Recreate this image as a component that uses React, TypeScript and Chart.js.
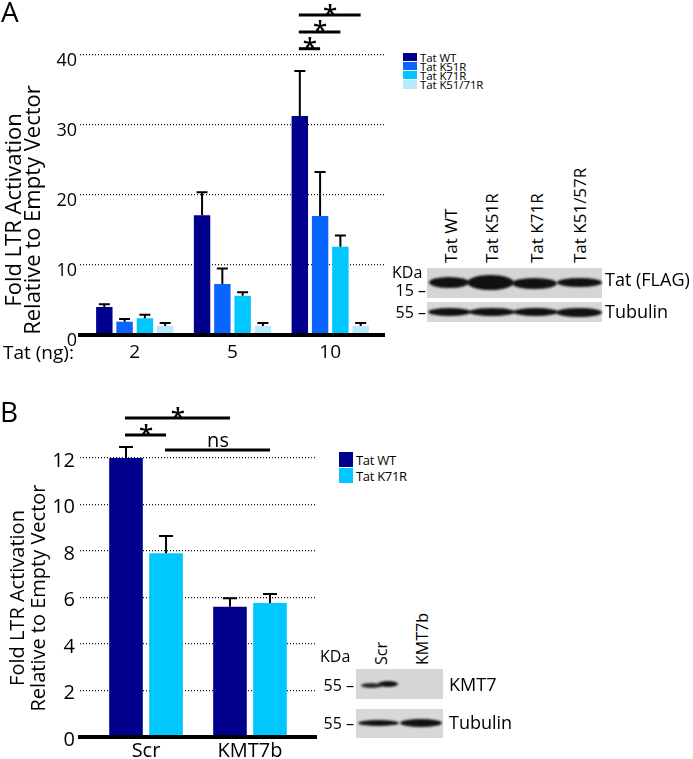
import React, { useEffect, useRef } from 'react';
import { Chart, registerables } from 'chart.js';

Chart.register(...registerables);

const FONT = "'Open Sans', sans-serif";

// ---------- Panel A data ----------
const doseLabels = ['2', '5', '10'];
const seriesNamesA = ['Tat WT', 'Tat K51R', 'Tat K71R', 'Tat K51/71R'];
const seriesColorsA = ['#00008c', '#0a64ff', '#00c8ff', '#b8e9ff'];
const tatWT = [4.0, 17.1, 31.3];
const tatK51R = [1.9, 7.3, 17.0];
const tatK71R = [2.4, 5.6, 12.6];
const tatK5171R = [1.3, 1.3, 1.3];
const errWT = [0.4, 3.3, 6.4];
const errK51R = [0.4, 2.2, 6.3];
const errK71R = [0.5, 0.5, 1.6];
const errK5171R = [0.4, 0.4, 0.4];
const yTicksA = [0, 10, 20, 30, 40];
const sigA = [
  { from: [0, 2], to: [1, 2], level: 40.9, text: '*' },
  { from: [0, 2], to: [2, 2], level: 43.3, text: '*' },
  { from: [0, 2], to: [3, 2], level: 45.7, text: '*' },
];

// ---------- Panel B data ----------
const shLabels = ['Scr', 'KMT7b'];
const seriesNamesB = ['Tat WT', 'Tat K71R'];
const seriesColorsB = ['#00008c', '#00c8ff'];
const bWT = [12.0, 5.6];
const bK71R = [7.9, 5.76];
const bErrWT = [0.47, 0.37];
const bErrK71R = [0.75, 0.39];
const yTicksB = [0, 2, 4, 6, 8, 10, 12];
const sigB = [
  { from: [0, 0], to: [0, 1], level: 13.72, text: '*' },
  { from: [0, 0], to: [1, 0], level: 12.99, text: '*' },
  { from: [1, 0], to: [1, 1], level: 12.34, text: 'ns' },
];

// ---------- Blot labels ----------
const blotLanesA = ['Tat WT', 'Tat K51R', 'Tat K71R', 'Tat K51/57R'];
const blotLanesB = ['Scr', 'KMT7b'];

function errorBarPlugin(errors: number[][], cap: number, lw: number) {
  return {
    id: 'errorBars',
    afterDatasetsDraw(chart: any) {
      const ctx = chart.ctx;
      const ys = chart.scales.y;
      ctx.save();
      ctx.strokeStyle = '#000';
      ctx.lineWidth = lw;
      chart.data.datasets.forEach((ds: any, di: number) => {
        const meta = chart.getDatasetMeta(di);
        meta.data.forEach((bar: any, i: number) => {
          const v = ds.data[i].y;
          const top = ys.getPixelForValue(v + errors[di][i]);
          ctx.beginPath();
          ctx.moveTo(bar.x, bar.y);
          ctx.lineTo(bar.x, top);
          ctx.moveTo(bar.x - cap / 2, top);
          ctx.lineTo(bar.x + cap / 2, top);
          ctx.stroke();
        });
      });
      ctx.restore();
    },
  };
}

function sigPlugin(specs: any[], starSize: number, nsSize: number) {
  return {
    id: 'sigBars',
    afterDatasetsDraw(chart: any) {
      const ctx = chart.ctx;
      const ys = chart.scales.y;
      ctx.save();
      specs.forEach((s) => {
        const a = chart.getDatasetMeta(s.from[0]).data[s.from[1]];
        const b = chart.getDatasetMeta(s.to[0]).data[s.to[1]];
        const y = ys.getPixelForValue(s.level);
        ctx.strokeStyle = '#000';
        ctx.lineWidth = 3;
        ctx.beginPath();
        ctx.moveTo(a.x - 1, y);
        ctx.lineTo(b.x, y);
        ctx.stroke();
        ctx.fillStyle = '#000';
        ctx.textAlign = 'center';
        ctx.textBaseline = 'alphabetic';
        const mid = (a.x + b.x) / 2;
        if (s.text === '*') {
          ctx.font = `600 ${starSize}px ${FONT}`;
          ctx.fillText('*', mid, y + starSize * 0.29);
        } else {
          ctx.font = `${nsSize}px ${FONT}`;
          ctx.fillText(s.text, mid, y - 3);
        }
      });
      ctx.restore();
    },
  };
}

function makeChart(canvas: HTMLCanvasElement, cfg: any) {
  return new Chart(canvas, {
    type: 'bar',
    data: {
      datasets: cfg.names.map((name: string, k: number) => ({
        label: name,
        data: cfg.values[k].map((v: number, i: number) => ({ x: i, y: v })),
        backgroundColor: cfg.colors[k],
        borderWidth: 0,
        barPercentage: cfg.barPct,
        categoryPercentage: cfg.catPct,
      })),
    },
    options: {
      animation: false,
      responsive: false,
      maintainAspectRatio: false,
      events: [],
      layout: { padding: { top: cfg.pad.top, right: cfg.pad.right, left: 0, bottom: 0 } },
      plugins: { legend: { display: false }, tooltip: { enabled: false } },
      scales: {
        x: {
          type: 'linear',
          min: cfg.xMin,
          max: cfg.xMax,
          offset: false,
          grid: { display: false, drawTicks: false, offset: false },
          border: { display: true, color: '#000', width: 4, z: 1 },
          afterBuildTicks: (s: any) => {
            s.ticks = cfg.cats.map((_: string, i: number) => ({ value: i }));
          },
          afterFit: (s: any) => {
            s.height = cfg.xHeight;
          },
          ticks: {
            callback: (v: any) => cfg.cats[v] ?? '',
            color: '#000',
            font: { family: FONT, size: cfg.xFont },
            padding: cfg.xPad,
            autoSkip: false,
            maxRotation: 0,
            minRotation: 0,
          },
        },
        y: {
          min: 0,
          max: cfg.yTicks[cfg.yTicks.length - 1],
          afterBuildTicks: (s: any) => {
            s.ticks = cfg.yTicks.map((v: number) => ({ value: v }));
          },
          afterFit: (s: any) => {
            s.width = 80;
          },
          grid: { color: '#111', lineWidth: 1.2, drawTicks: false },
          border: { display: false, dash: [1, 2] },
          ticks: {
            color: '#000',
            font: { family: FONT, size: cfg.tickFont },
            padding: cfg.yPad,
            labelOffset: cfg.yLabelOffset,
          },
        },
      },
    } as any,
    plugins: [errorBarPlugin(cfg.errors, cfg.cap, 2), sigPlugin(cfg.sig, 26, 20)],
  } as any);
}

// text helper: y = visual centre of capitals
function T(props: { x: number; y: number; size: number; text: string; align?: 'left' | 'right' | 'center' }) {
  const { x, y, size, text, align = 'left' } = props;
  const top = y - 0.531 * size;
  let left = x;
  let width: number | undefined = undefined;
  if (align === 'right') {
    left = x - 600;
    width = 600;
  } else if (align === 'center') {
    left = x - 300;
    width = 600;
  }
  return (
    <div
      style={{
        position: 'absolute',
        left,
        top,
        width,
        fontSize: size,
        lineHeight: `${size}px`,
        whiteSpace: 'nowrap',
        textAlign: align,
        fontFamily: FONT,
        color: '#000',
      }}
    >
      {text}
    </div>
  );
}

// rotated text reading upward, starting at yb, cap column centred at cx
function RT(props: { cx: number; yb: number; size: number; text: string }) {
  const { cx, yb, size, text } = props;
  return (
    <div
      style={{
        position: 'absolute',
        left: cx - 0.531 * size,
        top: yb,
        fontSize: size,
        lineHeight: `${size}px`,
        whiteSpace: 'nowrap',
        transformOrigin: '0 0',
        transform: 'rotate(-90deg)',
        fontFamily: FONT,
        color: '#000',
      }}
    >
      {text}
    </div>
  );
}

function AxisTitle(props: { lines: string[]; x0: number; cy: number; size: number; lh: number }) {
  const { lines, x0, cy, size, lh } = props;
  const W = 400;
  return (
    <div
      style={{
        position: 'absolute',
        left: x0,
        top: cy + W / 2,
        width: W,
        fontSize: size,
        lineHeight: `${lh}px`,
        textAlign: 'center',
        whiteSpace: 'nowrap',
        transformOrigin: '0 0',
        transform: 'rotate(-90deg)',
        fontFamily: FONT,
        color: '#000',
      }}
    >
      {lines.map((l, i) => (
        <div key={i}>{l}</div>
      ))}
    </div>
  );
}

function Legend(props: { x: number; y: number; names: string[]; colors: string[]; row: number; sq: number; size: number; ls: number }) {
  const { x, y, names, colors, row, sq, size, ls } = props;
  return (
    <div style={{ position: 'absolute', left: x, top: y }}>
      {names.map((n, i) => (
        <div key={n} style={{ position: 'absolute', left: 0, top: i * row, height: row, whiteSpace: 'nowrap' }}>
          <div style={{ position: 'absolute', left: 0, top: 0, width: 14, height: sq, background: colors[i] }} />
          <div
            style={{
              position: 'absolute',
              left: 17,
              top: sq / 2 + 1 - 0.531 * size,
              fontSize: size,
              lineHeight: `${size}px`,
              fontFamily: FONT,
              letterSpacing: `${ls}px`,
              color: '#000',
            }}
          >
            {n}
          </div>
        </div>
      ))}
    </div>
  );
}

function Box(props: { x: number; y: number; w: number; h: number; bg: string }) {
  const { x, y, w, h, bg } = props;
  return <div style={{ position: 'absolute', left: x, top: y, width: w, height: h, background: bg }} />;
}

function Band(props: { x1: number; x2: number; cy: number; t: number; c?: string }) {
  const { x1, x2, cy, t, c = '#111' } = props;
  return (
    <div
      style={{
        position: 'absolute',
        left: x1,
        top: cy - t / 2,
        width: x2 - x1,
        height: t,
        background: c,
        borderRadius: '50%',
        filter: 'blur(1px)',
      }}
    />
  );
}

export default function App() {
  const refA = useRef<HTMLCanvasElement>(null);
  const refB = useRef<HTMLCanvasElement>(null);

  useEffect(() => {
    const a = makeChart(refA.current!, {
      cats: doseLabels,
      names: seriesNamesA,
      colors: seriesColorsA,
      values: [tatWT, tatK51R, tatK71R, tatK5171R],
      errors: [errWT, errK51R, errK71R, errK5171R],
      yTicks: yTicksA,
      xMin: -0.56,
      xMax: 2.55,
      pad: { top: 55, right: 16 },
      xHeight: 37,
      barPct: 0.81,
      catPct: 0.83,
      tickFont: 18,
      xFont: 19,
      yPad: 3,
      yLabelOffset: 6,
      xPad: 6,
      cap: 11,
      sig: sigA,
    });
    const b = makeChart(refB.current!, {
      cats: shLabels,
      names: seriesNamesB,
      colors: seriesColorsB,
      values: [bWT, bK71R],
      errors: [bErrWT, bErrK71R],
      yTicks: yTicksB,
      xMin: -0.635,
      xMax: 1.635,
      pad: { top: 78, right: 14 },
      xHeight: 22,
      barPct: 0.84,
      catPct: 0.77,
      tickFont: 20,
      xFont: 20,
      yPad: 5,
      yLabelOffset: 3,
      xPad: 2,
      cap: 14,
      sig: sigB,
    });
    return () => {
      a.destroy();
      b.destroy();
    };
  }, []);

  const laneXA = [451, 492, 537, 580];
  const laneXB = [381, 422];

  return (
    <div style={{ position: 'absolute', left: 0, top: 0, width: 693, height: 759, background: '#fff', overflow: 'hidden', fontFamily: FONT }}>
      <canvas ref={refA} width={400} height={372} style={{ position: 'absolute', left: 0, top: 0 }} />
      <canvas ref={refB} width={330} height={379} style={{ position: 'absolute', left: 0, top: 380 }} />

      <div style={{ position: 'absolute', left: 1, top: -3, fontSize: 28, lineHeight: '28px', fontFamily: FONT }}>A</div>
      <div style={{ position: 'absolute', left: 0, top: 397, fontSize: 28, lineHeight: '28px', fontFamily: FONT }}>B</div>

      <AxisTitle lines={['Fold LTR Activation', 'Relative to Empty Vector']} x0={3} cy={210} size={22} lh={19} />
      <AxisTitle lines={['Fold LTR Activation', 'Relative to Empty Vector']} x0={5.7} cy={598} size={20} lh={21} />

      <T x={3} y={353} size={19} text="Tat (ng):" />

      <Legend x={403} y={53} names={seriesNamesA} colors={seriesColorsA} row={9.1} sq={8.3} size={11.5} ls={-0.1} />
      <Legend x={339} y={452} names={seriesNamesB} colors={seriesColorsB} row={16} sq={15} size={13} ls={-0.3} />

      {blotLanesA.map((l, i) => (
        <RT key={l} cx={laneXA[i]} yb={263} size={17} text={l} />
      ))}
      <T x={392} y={272} size={16} text="KDa" />
      <T x={426} y={290} size={16} text="15 –" align="right" />
      <T x={426} y={312} size={16} text="55 –" align="right" />
      <Box x={427} y={268} w={175} h={30} bg="#d5d5d5" />
      <Band x1={429} x2={469} cy={282} t={11} />
      <Band x1={467} x2={514} cy={282} t={15} />
      <Band x1={512} x2={557} cy={283} t={11} />
      <Band x1={557} x2={602} cy={282} t={9} />
      <Box x={427} y={302} w={175} h={20} bg="#d8d8d8" />
      <Band x1={428} x2={471} cy={312} t={8} />
      <Band x1={469} x2={515} cy={312} t={8} />
      <Band x1={513} x2={558} cy={312} t={8} />
      <Band x1={556} x2={602} cy={312} t={9} />
      <T x={605} y={280} size={18} text="Tat (FLAG)" />
      <T x={605} y={312} size={18} text="Tubulin" />

      {blotLanesB.map((l, i) => (
        <RT key={l} cx={laneXB[i]} yb={665} size={16} text={l} />
      ))}
      <T x={320} y={656} size={16} text="KDa" />
      <T x={354} y={685} size={16} text="55 –" align="right" />
      <T x={354} y={723} size={16} text="55 –" align="right" />
      <Box x={356} y={669} w={87} h={30} bg="#d6d6d6" />
      <Band x1={361} x2={382} cy={685} t={5} c="#2a2a2a" />
      <Band x1={378} x2={398} cy={684} t={6} />
      <Box x={356} y={709} w={87} h={29} bg="#d8d8d8" />
      <Band x1={358} x2={399} cy={723} t={6} />
      <Band x1={400} x2={442} cy={723} t={8} />
      <T x={449} y={685} size={18} text="KMT7" />
      <T x={449} y={723} size={18} text="Tubulin" />
    </div>
  );
}
